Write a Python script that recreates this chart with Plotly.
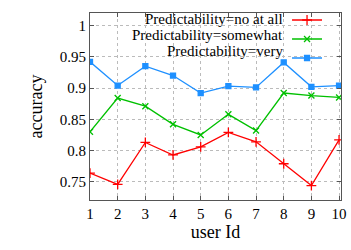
import plotly.graph_objects as go

user_ids = [1, 2, 3, 4, 5, 6, 7, 8, 9, 10]
acc_no_at_all = [0.764, 0.746, 0.813, 0.793, 0.806, 0.829, 0.814, 0.779, 0.744, 0.817]
acc_somewhat = [0.830, 0.884, 0.871, 0.842, 0.825, 0.858, 0.832, 0.892, 0.888, 0.885]
acc_very = [0.942, 0.904, 0.935, 0.920, 0.892, 0.903, 0.901, 0.941, 0.902, 0.904]
series_names = ["Predictability=no at all", "Predictability=somewhat", "Predictability=very"]
y_ticks = [0.75, 0.8, 0.85, 0.9, 0.95, 1]
y_tick_labels = ["0.75", "0.8", "0.85", "0.9", "0.95", "1"]

colors = ["#ff0000", "#00c000", "#1e90ff"]
symbols = ["cross-thin-open", "x-thin-open", "square"]
sizes = [7, 6, 5]
series = [acc_no_at_all, acc_somewhat, acc_very]

FONT = "Liberation Serif"

fig = go.Figure()
for name, vals, c, s, sz in zip(series_names, series, colors, symbols, sizes):
    fig.add_trace(go.Scatter(
        x=user_ids, y=vals, mode="lines+markers", name=" ",
        line=dict(color=c, width=1.3),
        marker=dict(symbol=s, size=sz, color=c, line=dict(color=c, width=1.3)),
        showlegend=True,
    ))

# legend text placed left of the native legend samples (gnuplot style)
legend_rows = [0.968, 0.880, 0.797]
for name, ry in zip(series_names, legend_rows):
    fig.add_annotation(x=0.777, y=ry, xref="paper", yref="paper", text=name,
                       showarrow=False, xanchor="right", yanchor="middle",
                       font=dict(family=FONT, size=15, color="black"))

axis_common = dict(
    showline=True, linecolor="#555555", linewidth=1, mirror="ticks",
    ticks="inside", ticklen=4, tickcolor="#555555",
    showgrid=True, gridcolor="#bbbbbb", griddash="dot", gridwidth=1,
    zeroline=False,
    tickfont=dict(family=FONT, size=15, color="black"),
)

fig.update_layout(
    width=351, height=250,
    margin=dict(l=90, r=10, t=5, b=50),
    paper_bgcolor="white", plot_bgcolor="white",
    font=dict(family=FONT, color="black"),
    showlegend=True,
    legend=dict(x=0.785, y=1.04, xanchor="left", yanchor="top",
                bgcolor="rgba(0,0,0,0)", borderwidth=0,
                font=dict(family=FONT, size=11),
                itemwidth=30, tracegroupgap=0),
    xaxis=dict(range=[1, 10.07], tickvals=user_ids, **axis_common,
               title=dict(text="user Id", font=dict(family=FONT, size=18), standoff=4)),
    yaxis=dict(range=[0.721, 1.02], tickvals=y_ticks, ticktext=y_tick_labels, **axis_common,
               title=dict(text="accuracy", font=dict(family=FONT, size=18), standoff=12)),
)

fig.write_html(
    "out.html", config={"displayModeBar": False, "responsive": False},
    post_script=("document.documentElement.style.margin='0';document.documentElement.style.overflow='hidden';"
                 "document.body.style.margin='0';document.body.style.padding='0';document.body.style.overflow='hidden';"),
)
